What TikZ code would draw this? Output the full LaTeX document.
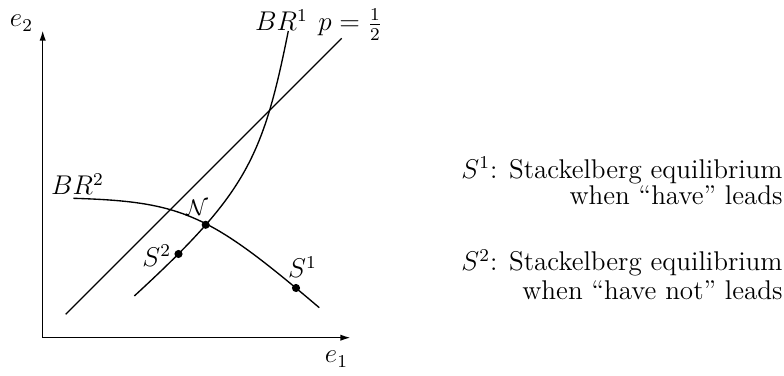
\documentclass[tikz,border=0pt]{standalone}
\usetikzlibrary{arrows.meta}
\begin{document}
\begin{tikzpicture}[x=0.443pt,y=-0.443pt,
  curve/.style={line width=0.6pt},
  axis/.style={line width=0.6pt,-{Latex[length=4.5pt,width=2.8pt]}},
  dot/.style={circle,fill=black,inner sep=0pt,minimum size=3.6pt},
  lbl/.style={inner sep=0pt,font=\large},
  every node/.style={font=\large}]
\useasboundingbox (0,0) rectangle (784,376);
% axes
\coordinate (O) at (42.7,337.7);
\coordinate (Ytop) at (42.7,30.5);
\coordinate (Xend) at (350.5,337.7);
\draw[axis] (O) -- (Ytop);
\draw[axis] (O) -- (Xend);
\node[lbl,anchor=base] (e2) at (21.5,27) {$e_2$};
\node[lbl,anchor=base] (e1) at (336.5,363) {$e_1$};
% p = 1/2 line
\coordinate (L0) at (65.7,314.3);
\coordinate (L1) at (341.7,38.3);
\draw[curve] (L0) -- (L1);
% BR1
\coordinate (A0) at (134.3,296);
\coordinate (A1) at (288.3,31);
\draw[curve] (A0) .. controls (245.3,193.9) and (262.7,159.2) .. (A1);
% BR2
\coordinate (B0) at (73.3,198.3);
\coordinate (B1) at (319.3,307.7);
\draw[curve] (B0) .. controls (183.3,201.6) and (209.3,214.2) .. (B1);
% points
\node[dot] (N) at (205.7,224.8) {};
\node[dot] (S2) at (178.5,254) {};
\node[dot] (S1) at (296,288) {};
% labels
\node[lbl,anchor=base] (lBR1) at (281.5,31) {$BR^1$};
\node[lbl,anchor=base west] (lp) at (318,31) {$p=\frac{1}{2}$};
\node[lbl,anchor=base] (lBR2) at (77.5,195) {$BR^2$};
\node[lbl,anchor=base,font=\normalsize] (lN) at (197,216) {$\mathcal{N}$};
\node[lbl,anchor=base] (lS2) at (156.7,266.7) {$S^2$};
\node[lbl,anchor=base] (lS1) at (302.5,278) {$S^1$};
% legend
\node[lbl,anchor=base east] (t1) at (783,178.3) {$S^1$: Stackelberg equilibrium};
\node[lbl,anchor=base east] (t2) at (783,205) {when ``have'' leads};
\node[lbl,anchor=base east] (t3) at (783,271) {$S^2$: Stackelberg equilibrium};
\node[lbl,anchor=base east] (t4) at (783,300) {when ``have not'' leads};
\end{tikzpicture}
\end{document}
